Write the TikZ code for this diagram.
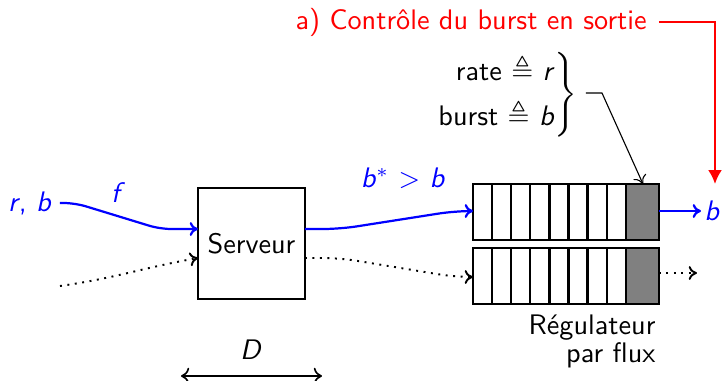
\documentclass[tikz,border=0pt]{standalone}
\usepackage{amssymb}
\usetikzlibrary{arrows.meta,calc}
\renewcommand{\familydefault}{\sfdefault}
\begin{document}
\begin{tikzpicture}[x=0.0127cm,y=-0.0127cm,
  every node/.style={font=\sffamily\fontsize{10.2}{12.3}\selectfont},
  flow/.style={blue,line width=0.8pt,-{To[length=3pt,width=5pt]}},
  dotflow/.style={black,line width=0.7pt,dotted,-{To[length=3pt,width=5pt]}},
  box/.style={draw,line width=0.8pt},
  lbl/.style={blue,inner sep=1pt},
  ]
\useasboundingbox (0,0) rectangle (724,380);
% server
\node[box,minimum width=1.36cm,minimum height=1.41cm,inner sep=0pt] (srv) at (251.5,243.5) {Serveur};
% regulators
\foreach \yt/\nm in {184/regA,248/regB}{
  \fill[gray] (626,\yt) rectangle (659,\yt+56);
  \foreach \i in {1,...,7}{\draw[line width=0.8pt] (473+\i*19.1,\yt) -- (473+\i*19.1,\yt+56);}
  \draw[line width=0.8pt] (626,\yt) -- (626,\yt+56);
  \draw[box] (473,\yt) rectangle (659,\yt+56);
  \coordinate (\nm) at (473,\yt+28);
}
\coordinate (regAin) at (473,211);
\coordinate (regBin) at (473,277);
\coordinate (regAout) at (659,211);
\coordinate (regBout) at (659,273);
\coordinate (gtop) at (643,184);
% input labels
\node[lbl,anchor=east] (rb) at (55,203) {\textit{r}\kern-0.5pt, \textit{b}};
\node[lbl] (f) at (118,193) {\textit{f}};
\coordinate (din) at (60,286);
\coordinate (srvA) at (198,229);
\coordinate (srvB) at (198,258);
\coordinate (srvC) at (305,229);
\coordinate (srvD) at (305,258);
\coordinate (rbs) at (60,203);
\draw[flow,rounded corners=4pt] (rbs) -- (75,203) -- (160,229) -- (srvA);
\draw[dotflow] (din) to[out=8,in=190] (srvB);
\draw[flow,rounded corners=6pt] (srvC) -- (340,229) -- (455,211) -- (regAin);
\draw[dotflow,rounded corners=6pt] (srvD) -- (340,258) -- (455,277) -- (regBin);
\node[lbl] (bs) at (403,178) {\textit{b}$^{*}$ $>$ \textit{b}};
% outputs
\node[lbl,anchor=west] (bout) at (701,211) {\textit{b}};
\draw[flow] (regAout) -- (bout.west);
\coordinate (dout) at (697,273);
\draw[dotflow] (regBout) -- (dout);
% regulator label
\node[anchor=east,inner sep=0pt] (reglbl1) at (656,328) {R\'egulateur};
\node[anchor=east,inner sep=0pt] (reglbl2) at (656,355) {par flux};
% D arrow
\node (D) at (251,350) {\textit{D}};
\coordinate (Dl) at (181,376);
\coordinate (Dr) at (322,376);
\draw[line width=0.6pt,{To[length=3pt,width=6pt]}-{To[length=3pt,width=6pt]}] (Dl) -- (Dr);
% parameters
\node[anchor=east,inner sep=0pt] (par) at (578,95) {$\left.\begin{tabular}{@{}r@{}}rate ${\triangleq}$ \textit{r}\\[3pt] burst ${\triangleq}$ \textit{b}\end{tabular}\right\}$};
\coordinate (pc) at (602,93);
\coordinate (ps) at (586,93);
\draw[line width=0.4pt,-{To[length=3pt,width=5pt]}] (ps) -- (pc) -- (gtop);
% red annotation
\node[red,anchor=east,inner sep=1pt] (ctl) at (650,22) {a) Contr\^ole du burst en sortie};
\coordinate (rc) at (715,22);
\coordinate (rend) at (715,184);
\coordinate (rs) at (659,22);
\draw[red,line width=0.8pt,-{Latex[length=5pt,width=5pt]}] (rs) -- (rc) -- (rend);
\end{tikzpicture}
\end{document}
